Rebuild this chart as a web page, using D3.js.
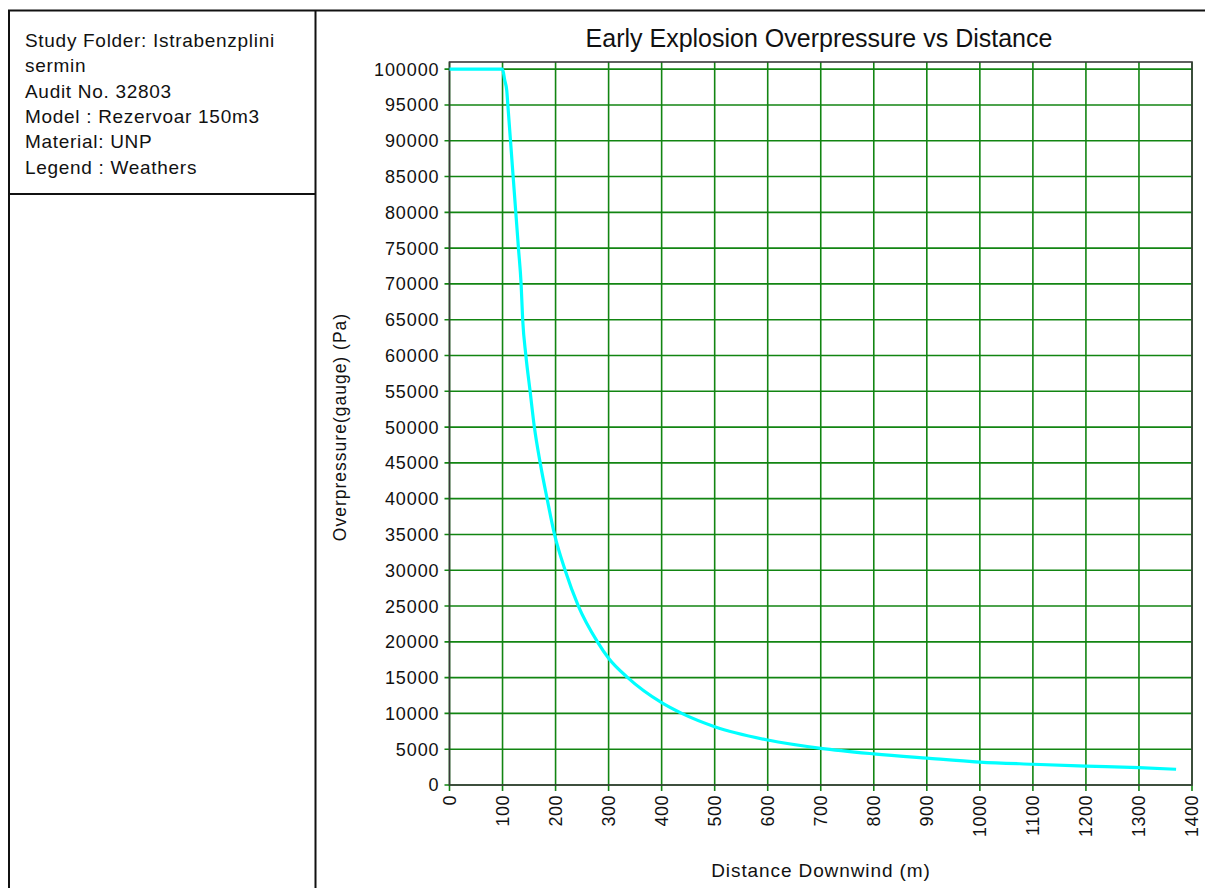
<!DOCTYPE html>
<html>
<head>
<meta charset="utf-8">
<script src="https://cdn.jsdelivr.net/npm/d3@7"></script>
<style>
  body { margin: 0; background: #fff; }
  svg { display: block; }
</style>
</head>
<body>
<div id="chart"></div>
<script>
// info panel lines (left box)
var infoLines = [
  "Study Folder: Istrabenzplini",
  "sermin",
  "Audit No. 32803",
  "Model : Rezervoar 150m3",
  "Material: UNP",
  "Legend : Weathers"
];
var chartTitle = "Early Explosion Overpressure vs Distance";
var xTitle = "Distance Downwind (m)";
var yTitle = "Overpressure(gauge) (Pa)";

var xTicks = [0, 100, 200, 300, 400, 500, 600, 700, 800, 900, 1000, 1100, 1200, 1300, 1400];
var yTicks = d3.range(0, 100001, 5000);

// distance (m)
var distance = [0, 100, 104, 108, 110, 115, 120, 125, 130, 135, 138, 144, 152, 160, 171, 184,
  198, 218, 243, 279, 300, 336, 400, 438, 500, 600, 700, 800, 900, 1000, 1100, 1200, 1300, 1370];
// overpressure (Pa)
var overpressure = [100000, 100000, 98500, 97000, 95000, 90000, 85000, 80000, 75000, 70000, 65000,
  60000, 55000, 50000, 45000, 40000, 35000, 30000, 25000, 20000, 17700, 15000, 11500, 10000,
  8140, 6280, 5120, 4350, 3750, 3200, 2900, 2650, 2420, 2200];

var W = 1205, H = 888;
var font = "Liberation Sans, Arial, sans-serif";
var gridColor = "#128512";
var frameColor = "#3a3a3a";

var svg = d3.select("#chart").append("svg")
  .attr("width", W)
  .attr("height", H);

// ---- outer frame / info panel ----
svg.append("line")
  .attr("x1", 8).attr("x2", W).attr("y1", 10.5).attr("y2", 10.5)
  .attr("stroke", "#111").attr("stroke-width", 2);
svg.append("line")
  .attr("x1", 9).attr("x2", 9).attr("y1", 10).attr("y2", H)
  .attr("stroke", "#111").attr("stroke-width", 2);
svg.append("line")
  .attr("x1", 315.5).attr("x2", 315.5).attr("y1", 10).attr("y2", H)
  .attr("stroke", "#111").attr("stroke-width", 2);
svg.append("line")
  .attr("x1", 9).attr("x2", 315).attr("y1", 194).attr("y2", 194)
  .attr("stroke", "#111").attr("stroke-width", 2);

svg.append("g")
  .selectAll("text")
  .data(infoLines)
  .enter()
  .append("text")
  .attr("x", 25)
  .attr("y", function (d, i) { return 47 + i * 25.3; })
  .attr("font-family", font)
  .attr("font-size", "19px")
  .attr("letter-spacing", "0.7px")
  .attr("fill", "#111")
  .text(function (d) { return d; });

// ---- plot ----
var x = d3.scaleLinear().domain([0, 1400]).range([449.5, 1192]);
var y = d3.scaleLinear().domain([0, 101000]).range([785, 62]);

var plot = svg.append("g");

// horizontal gridlines, starting at the tick mark
plot.append("g")
  .selectAll("line")
  .data(yTicks)
  .enter()
  .append("line")
  .attr("x1", x(0) - 5)
  .attr("x2", x(1400))
  .attr("y1", function (d) { return y(d); })
  .attr("y2", function (d) { return y(d); })
  .attr("stroke", gridColor)
  .attr("stroke-width", 1.6);

// vertical gridlines, running below the axis as ticks
plot.append("g")
  .selectAll("line")
  .data(xTicks)
  .enter()
  .append("line")
  .attr("x1", function (d) { return x(d); })
  .attr("x2", function (d) { return x(d); })
  .attr("y1", y(101000))
  .attr("y2", y(0) + 6)
  .attr("stroke", gridColor)
  .attr("stroke-width", 1.6);

// frame
plot.append("rect")
  .attr("x", x(0))
  .attr("y", y(101000))
  .attr("width", x(1400) - x(0))
  .attr("height", y(0) - y(101000))
  .attr("fill", "none")
  .attr("stroke", frameColor)
  .attr("stroke-width", 1.6);

// y tick labels
plot.append("g")
  .selectAll("text")
  .data(yTicks)
  .enter()
  .append("text")
  .attr("x", x(0) - 10)
  .attr("y", function (d) { return y(d); })
  .attr("dy", "0.36em")
  .attr("text-anchor", "end")
  .attr("font-family", font)
  .attr("font-size", "18px")
  .attr("letter-spacing", "0.9px")
  .attr("fill", "#111")
  .text(function (d) { return d; });

// x tick labels, rotated
plot.append("g")
  .selectAll("text")
  .data(xTicks)
  .enter()
  .append("text")
  .attr("transform", function (d) {
    return "translate(" + x(d) + "," + (y(0) + 10) + ") rotate(-90)";
  })
  .attr("dy", "0.36em")
  .attr("text-anchor", "end")
  .attr("font-family", font)
  .attr("font-size", "18px")
  .attr("letter-spacing", "0.5px")
  .attr("fill", "#111")
  .text(function (d) { return d; });

// the curve
var pts = distance.map(function (d, i) { return [d, overpressure[i]]; });
var line = d3.line()
  .x(function (d) { return x(d[0]); })
  .y(function (d) { return y(d[1]); })
  .curve(d3.curveMonotoneX);
plot.append("path")
  .datum(pts)
  .attr("d", line)
  .attr("fill", "none")
  .attr("stroke", "#00ffff")
  .attr("stroke-width", 3.2)
  .attr("stroke-linejoin", "round");

// titles
svg.append("text")
  .attr("x", 819)
  .attr("y", 47)
  .attr("text-anchor", "middle")
  .attr("font-family", font)
  .attr("font-size", "25px")
  .attr("fill", "#111")
  .text(chartTitle);

svg.append("text")
  .attr("x", 821)
  .attr("y", 877)
  .attr("text-anchor", "middle")
  .attr("font-family", font)
  .attr("font-size", "19px")
  .attr("letter-spacing", "0.9px")
  .attr("fill", "#111")
  .text(xTitle);

svg.append("text")
  .attr("transform", "translate(346,427) rotate(-90)")
  .attr("text-anchor", "middle")
  .attr("font-family", font)
  .attr("font-size", "17.5px")
  .attr("letter-spacing", "1px")
  .attr("fill", "#111")
  .text(yTitle);
</script>
</body>
</html>
